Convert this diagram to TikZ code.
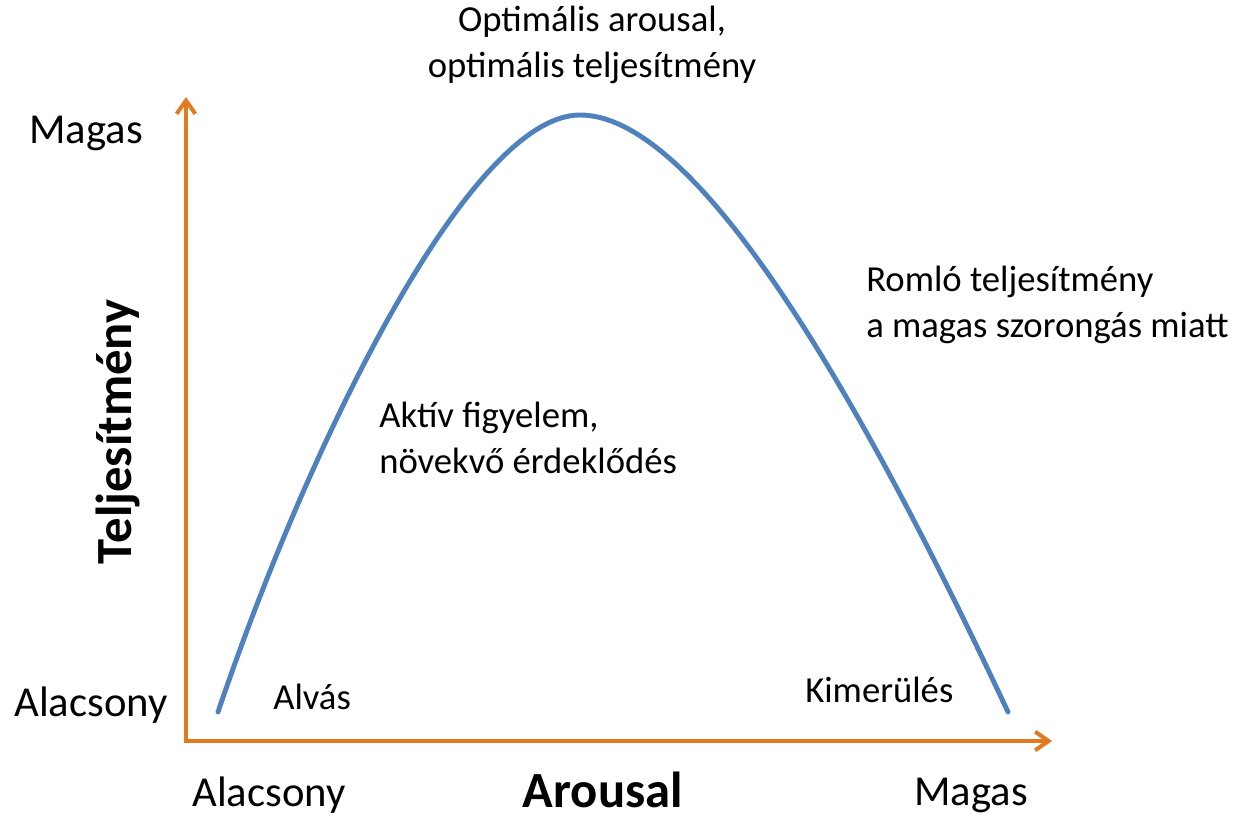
\documentclass[tikz,border=0pt]{standalone}
\usepackage{fontspec}
\setmainfont{Carlito}
\usetikzlibrary{arrows.meta}
\definecolor{axisorange}{RGB}{228,122,32}
\definecolor{curveblue}{RGB}{79,129,189}

\begin{document}
\begin{tikzpicture}[x=0.75pt, y=-0.75pt,
  region text/.style={inner sep=0pt, font=\fontsize{27.5}{34.5}\selectfont},
  level text/.style={inner sep=0pt, font=\fontsize{32}{38}\selectfont},
  axis title/.style={inner sep=0pt, font=\fontsize{38}{44}\selectfont\bfseries},
  barb/.tip={Straight Barb[length=10pt, width=14pt]}]
\useasboundingbox (0, 0) rectangle (1237, 818);
\coordinate (O) at (186, 741);
\coordinate (Ytop) at (186, 97);
\coordinate (Xend) at (1052, 741);
\coordinate (Start) at (218, 712);
\coordinate (Top) at (580, 115);
\coordinate (End) at (1008, 712);
\draw [axisorange, line width=3pt, barb-barb] (Ytop) -- (O) -- (Xend);
% performance curve
\draw [curveblue, line width=3.7pt, line cap=round] (Start) .. controls (310, 440) and (470, 115) .. (Top)
  .. controls (710, 115) and (890, 460) .. (End);
\node at (592, 45) [name=peak, region text, align=center] {Optimális arousal,\\optimális teljesítmény};
\node at (866, 305) [name=anxiety, region text, anchor=west, align=left] {Romló teljesítmény\\a magas szorongás miatt};
\node at (379, 438) [name=attention, region text, anchor=west, align=left] {Aktív figyelem,\\növekvő érdeklődés};
\node at (273, 697) [name=sleep, region text, anchor=west] {Alvás};
\node at (805, 690) [name=exhaustion, region text, anchor=west] {Kimerülés};
\node at (86, 133) [name=yhigh, level text] {Magas};
\node at (91, 705) [name=ylow, level text] {Alacsony};
\node at (269, 795) [name=xlow, level text] {Alacsony};
\node at (971, 795) [name=xhigh, level text] {Magas};
\node at (118, 432) [name=ytitle, axis title, rotate=90] {Teljesítmény};
\node at (603, 790) [name=xtitle, axis title] {Arousal};
\end{tikzpicture}
\end{document}
